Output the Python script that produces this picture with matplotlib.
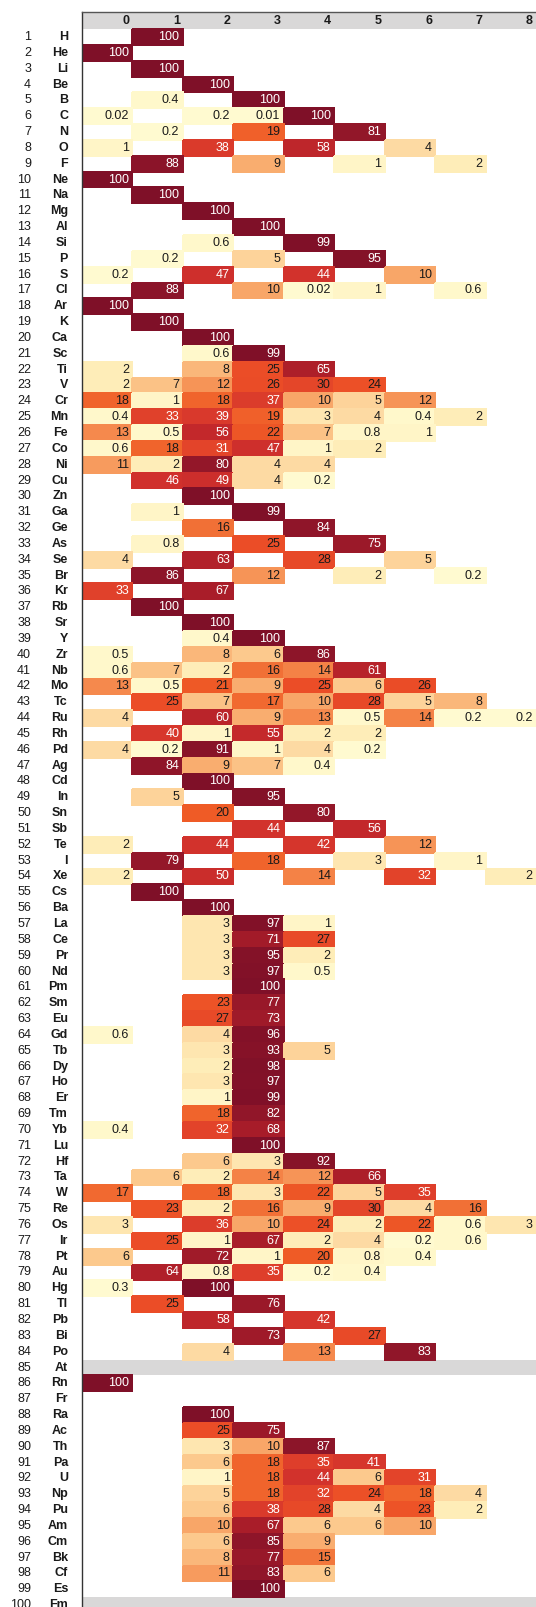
import numpy as np
import matplotlib
matplotlib.use("Agg")
import matplotlib.pyplot as plt
from matplotlib import colors
from matplotlib.transforms import blended_transform_factory

plt.rcParams['font.family'] = ['Liberation Sans', 'DejaVu Sans']

# oxidation state share (%) per element, columns = oxidation state 0..8
symbols = ['H', 'He', 'Li', 'Be', 'B', 'C', 'N', 'O', 'F', 'Ne',
           'Na', 'Mg', 'Al', 'Si', 'P', 'S', 'Cl', 'Ar', 'K', 'Ca',
           'Sc', 'Ti', 'V', 'Cr', 'Mn', 'Fe', 'Co', 'Ni', 'Cu', 'Zn',
           'Ga', 'Ge', 'As', 'Se', 'Br', 'Kr', 'Rb', 'Sr', 'Y', 'Zr',
           'Nb', 'Mo', 'Tc', 'Ru', 'Rh', 'Pd', 'Ag', 'Cd', 'In', 'Sn',
           'Sb', 'Te', 'I', 'Xe', 'Cs', 'Ba', 'La', 'Ce', 'Pr', 'Nd',
           'Pm', 'Sm', 'Eu', 'Gd', 'Tb', 'Dy', 'Ho', 'Er', 'Tm', 'Yb',
           'Lu', 'Hf', 'Ta', 'W', 'Re', 'Os', 'Ir', 'Pt', 'Au', 'Hg',
           'Tl', 'Pb', 'Bi', 'Po', 'At', 'Rn', 'Fr', 'Ra', 'Ac', 'Th',
           'Pa', 'U', 'Np', 'Pu', 'Am', 'Cm', 'Bk', 'Cf', 'Es', 'Fm']
states = [0, 1, 2, 3, 4, 5, 6, 7, 8]
no_data = ['At', 'Fm']

_ = None
shares = [
    [_, 100], [100], [_, 100], [_, _, 100], [_, 0.4, _, 100],
    [0.02, _, 0.2, 0.01, 100], [_, 0.2, _, 19, _, 81], [1, _, 38, _, 58, _, 4],
    [_, 88, _, 9, _, 1, _, 2], [100],
    [_, 100], [_, _, 100], [_, _, _, 100], [_, _, 0.6, _, 99],
    [_, 0.2, _, 5, _, 95], [0.2, _, 47, _, 44, _, 10],
    [_, 88, _, 10, 0.02, 1, _, 0.6], [100], [_, 100], [_, _, 100],
    [_, _, 0.6, 99], [2, _, 8, 25, 65], [2, 7, 12, 26, 30, 24],
    [18, 1, 18, 37, 10, 5, 12], [0.4, 33, 39, 19, 3, 4, 0.4, 2],
    [13, 0.5, 56, 22, 7, 0.8, 1], [0.6, 18, 31, 47, 1, 2], [11, 2, 80, 4, 4],
    [_, 46, 49, 4, 0.2], [_, _, 100],
    [_, 1, _, 99], [_, _, 16, _, 84], [_, 0.8, _, 25, _, 75],
    [4, _, 63, _, 28, _, 5], [_, 86, _, 12, _, 2, _, 0.2], [33, _, 67],
    [_, 100], [_, _, 100], [_, _, 0.4, 100], [0.5, _, 8, 6, 86],
    [0.6, 7, 2, 16, 14, 61], [13, 0.5, 21, 9, 25, 6, 26],
    [_, 25, 7, 17, 10, 28, 5, 8], [4, _, 60, 9, 13, 0.5, 14, 0.2, 0.2],
    [_, 40, 1, 55, 2, 2], [4, 0.2, 91, 1, 4, 0.2], [_, 84, 9, 7, 0.4],
    [_, _, 100], [_, 5, _, 95], [_, _, 20, _, 80],
    [_, _, _, 44, _, 56], [2, _, 44, _, 42, _, 12], [_, 79, _, 18, _, 3, _, 1],
    [2, _, 50, _, 14, _, 32, _, 2], [_, 100], [_, _, 100],
    [_, _, 3, 97, 1], [_, _, 3, 71, 27], [_, _, 3, 95, 2], [_, _, 3, 97, 0.5],
    [_, _, _, 100], [_, _, 23, 77], [_, _, 27, 73], [0.6, _, 4, 96],
    [_, _, 3, 93, 5], [_, _, 2, 98], [_, _, 3, 97], [_, _, 1, 99],
    [_, _, 18, 82], [0.4, _, 32, 68],
    [_, _, _, 100], [_, _, 6, 3, 92], [_, 6, 2, 14, 12, 66],
    [17, _, 18, 3, 22, 5, 35], [_, 23, 2, 16, 9, 30, 4, 16],
    [3, _, 36, 10, 24, 2, 22, 0.6, 3], [_, 25, 1, 67, 2, 4, 0.2, 0.6],
    [6, _, 72, 1, 20, 0.8, 0.4], [_, 64, 0.8, 35, 0.2, 0.4], [0.3, _, 100],
    [_, 25, _, 76], [_, _, 58, _, 42], [_, _, _, 73, _, 27],
    [_, _, 4, _, 13, _, 83], [], [100], [], [_, _, 100], [_, _, 25, 75],
    [_, _, 3, 10, 87],
    [_, _, 6, 18, 35, 41], [_, _, 1, 18, 44, 6, 31],
    [_, _, 5, 18, 32, 24, 18, 4], [_, _, 6, 38, 28, 4, 23, 2],
    [_, _, 10, 67, 6, 6, 10], [_, _, 6, 85, 9], [_, _, 8, 77, 15],
    [_, _, 11, 83, 6], [_, _, _, 100], [],
]

n = len(symbols)
grid = np.full((n, len(states)), np.nan)
for i, row in enumerate(shares):
    for j, v in enumerate(row):
        if v is not None:
            grid[i, j] = v

W, H = 536, 1607
fig = plt.figure(figsize=(W / 100, H / 100), dpi=100)
ax = fig.add_axes([82 / W, 0, 1 - 82 / W, 1 - 12 / H])

# muted yellow-orange-red ramp
anchors = [(0.00, '#fffad0'), (0.01, '#fff4c4'), (0.02, '#feedb8'),
           (0.04, '#fdd9a2'), (0.06, '#fcc88c'), (0.10, '#f8a466'),
           (0.16, '#f16d33'), (0.20, '#ef5b26'), (0.25, '#eb4d27'),
           (0.33, '#e0412b'), (0.44, '#d2322c'), (0.56, '#c3282b'),
           (0.67, '#a91d29'), (0.80, '#931729'), (1.00, '#7f1028')]
cmap = colors.LinearSegmentedColormap.from_list('ox', anchors)
cmap.set_bad((0, 0, 0, 0))
norm = colors.Normalize(vmin=0, vmax=100)

grey = '#d9d8d8'
ax.axhspan(-0.6, 0.5, color=grey, lw=0, zorder=0)
for s in no_data:
    r = symbols.index(s) + 1
    ax.axhspan(r - 0.5, r + 0.5, color=grey, lw=0, zorder=0)

xe = np.arange(len(states) + 1)
ye = np.arange(n + 1) + 0.5
ax.pcolormesh(xe, ye, np.ma.masked_invalid(grid), cmap=cmap, norm=norm,
              edgecolors='face', linewidth=0.3, zorder=1)

fs = 9
for i in range(n):
    for j in range(len(states)):
        v = grid[i, j]
        if np.isnan(v):
            continue
        c = 'white' if v >= 31 else '#1a1a1a'
        ax.text(j + 0.93, i + 1, f'{v:g}', ha='right', va='center',
                fontsize=fs, color=c, zorder=3)

for j, s in enumerate(states):
    ax.text(j + 0.94, 0, str(s), ha='right', va='center', fontsize=fs,
            fontweight='bold', color='#1a1a1a')

trans = blended_transform_factory(fig.transFigure, ax.transData)
for i, s in enumerate(symbols):
    ax.text(31 / W, i + 1, str(i + 1), transform=trans, ha='right',
            va='center', fontsize=fs, color='#1a1a1a')
    ax.text(68 / W, i + 1, s, transform=trans, ha='right', va='center',
            fontsize=fs, fontweight='bold', color='#1a1a1a')

ax.set_xlim(0, len(states))
ax.set_ylim(100.12, -0.58)
ax.set_xticks([])
ax.set_yticks([])
for side in ['right', 'bottom']:
    ax.spines[side].set_visible(False)
ax.spines['left'].set_color('#333333')
ax.spines['top'].set_color('#555555')
ax.spines['left'].set_linewidth(1.0)
ax.spines['top'].set_linewidth(1.0)

fig.savefig('out.png', dpi=100)
